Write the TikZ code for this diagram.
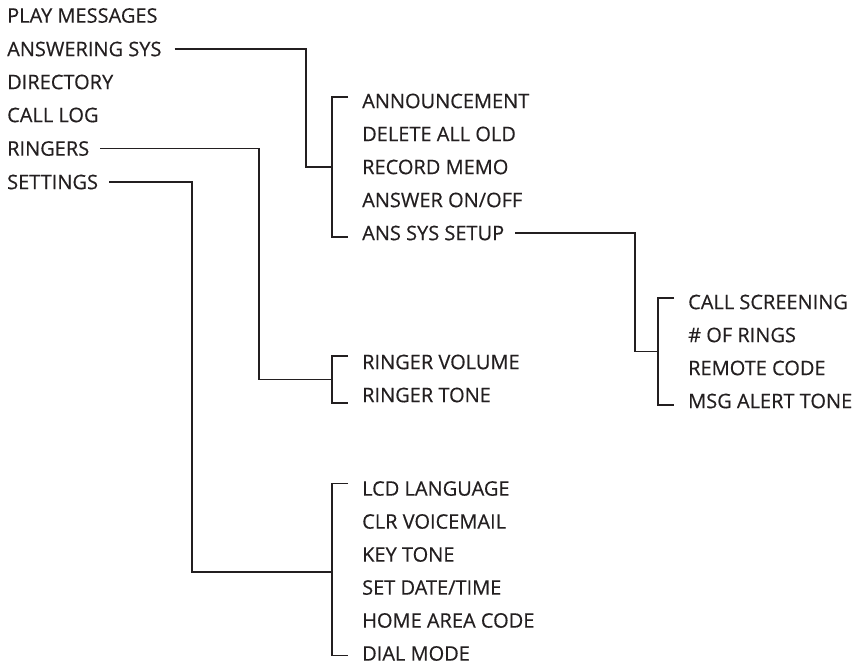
\documentclass[tikz,border=0pt]{standalone}
\usepackage{fontspec}
\setmainfont{Open Sans}[FakeBold=0.4]
\usetikzlibrary{calc}
\definecolor{ink}{HTML}{231F20}
\begin{document}
\begin{tikzpicture}[x=1pt,y=-1pt,
  item/.style={anchor=west, inner sep=0pt, text height=14.3pt, text depth=0pt,
    font=\fontsize{20}{24}\selectfont, text=ink},
  link/.style={draw=ink, line width=1.9pt}]
\useasboundingbox (0,0) rectangle (862,663);
% top level
\node[item] (play) at (7,15.5) {PLAY MESSAGES};
\node[item] (ans)  at (7,49) {ANSWERING SYS};
\node[item] (dir)  at (7,82) {DIRECTORY};
\node[item] (log)  at (7,115) {CALL LOG};
\node[item] (ring) at (7,148.5) {RINGERS};
\node[item] (set)  at (7,182) {SETTINGS};
% answering sys
\node[item] (ann)   at (362,101) {ANNOUNCEMENT};
\node[item] (del)   at (362,134) {DELETE ALL OLD};
\node[item] (rec)   at (362,167) {RECORD MEMO};
\node[item] (onoff) at (362,200) {ANSWER ON/OFF};
\node[item] (setup) at (362,233) {ANS SYS SETUP};
% ans sys setup
\node[item] (scr)    at (688,302) {CALL SCREENING};
\node[item] (rings)  at (688,335) {\# OF RINGS};
\node[item] (remote) at (688,368) {REMOTE CODE};
\node[item] (alert)  at (688,401) {MSG ALERT TONE};
% ringers
\node[item] (vol)  at (362,362) {RINGER VOLUME};
\node[item] (tone) at (362,395) {RINGER TONE};
% settings
\node[item] (lcd)  at (362,488.5) {LCD LANGUAGE};
\node[item] (clr)  at (362,521.5) {CLR VOICEMAIL};
\node[item] (key)  at (362,554.5) {KEY TONE};
\node[item] (date) at (362,587.5) {SET DATE/TIME};
\node[item] (home) at (362,620.5) {HOME AREA CODE};
\node[item] (dial) at (362,653.5) {DIAL MODE};
% brackets
\draw[link] ($(ann.west)+(-14,-4)$) -| ($(setup.west)+(-30,4)$) -- ++(16,0);
\draw[link] ($(scr.west)+(-14,-4)$) -| ($(alert.west)+(-30,4)$) -- ++(16,0);
\draw[link] ($(vol.west)+(-14,-6)$) -| ($(tone.west)+(-30,8)$) -- ++(16,0);
\draw[link] ($(lcd.west)+(-14,-5)$) -| ($(dial.west)+(-30,2)$) -- ++(16,0);
% junctions
\coordinate (jA) at ($($(ann.west)!0.5!(setup.west)$)+(-30,0)$);
\coordinate (jB) at ($($(scr.west)!0.5!(alert.west)$)+(-30,0)$);
\coordinate (jC) at ($($(vol.west)!0.5!(tone.west)$)+(-30,1)$);
\coordinate (jD) at ($($(lcd.west)!0.5!(dial.west)$)+(-30,1)$);
\coordinate (kA) at (306,0);
\coordinate (kB) at (635,0);
\coordinate (kC) at (259,0);
\coordinate (kD) at (192,0);
\draw[link] ([xshift=13pt]ans.east) -| (kA |- jA) -- (jA);
\draw[link] ([xshift=11pt]setup.east) -| (kB |- jB) -- (jB);
\draw[link] ([xshift=11pt]ring.east) -| (kC |- jC) -- (jC);
\draw[link] ([xshift=11pt]set.east) -| (kD |- jD) -- (jD);
\end{tikzpicture}
\end{document}
